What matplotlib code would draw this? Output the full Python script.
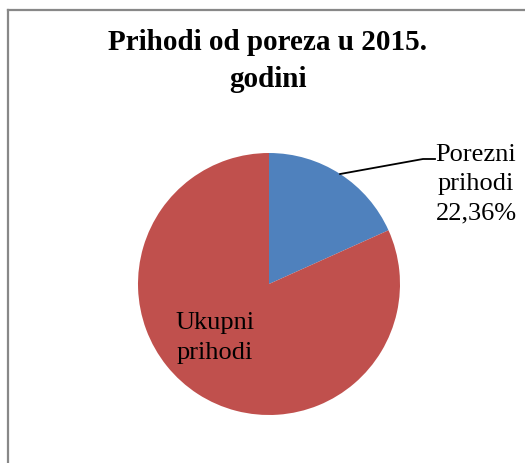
import numpy as np
import matplotlib
matplotlib.use("Agg")
import matplotlib.pyplot as plt
from matplotlib.lines import Line2D

title = "Prihodi od poreza u 2015.\ngodini"
labels = ["Porezni\nprihodi\n22,36%", "Ukupni\nprihodi"]
values = [22.36, 100]
colors = ["#4F81BD", "#C0504D"]

W, H = 525, 463
fig = plt.figure(figsize=(W / 100, H / 100), dpi=100)
plt.rcParams['font.family'] = ['Liberation Serif', 'DejaVu Serif']

def fx(px):
    return px / W

def fy(py):
    return 1 - py / H

# chart border (left and top only visible)
fig.add_artist(Line2D([fx(8), fx(8)], [fy(10), 0], color="#888888", lw=1.6))
fig.add_artist(Line2D([fx(8), 1], [fy(10), fy(10)], color="#888888", lw=1.6))

fig.text(fx(268), fy(61), title, ha="center", va="center", fontsize=21,
         fontweight="bold", linespacing=1.45)

ax = fig.add_axes([fx(138), fy(415), fx(262), 262 / H])
wedges, _ = ax.pie(values, colors=colors, startangle=90, counterclock=False,
                   wedgeprops=dict(linewidth=0))
ax.set_xlim(-1, 1)
ax.set_ylim(-1, 1)
ax.axis("off")

# leader line for the small slice
w = wedges[0]
mid = np.deg2rad((w.theta1 + w.theta2) / 2)
p0 = fig.transFigure.inverted().transform(ax.transData.transform((np.cos(mid), np.sin(mid))))
fig.add_artist(Line2D([p0[0], fx(423), fx(435)], [p0[1], fy(159), fy(159)],
                      color="black", lw=1.3))

fig.text(fx(476), fy(184), labels[0], ha="center", va="center", fontsize=19,
         linespacing=1.42)
fig.text(fx(215), fy(338), labels[1], ha="center", va="center", fontsize=19,
         linespacing=1.42)

fig.savefig("out.png", dpi=100)
